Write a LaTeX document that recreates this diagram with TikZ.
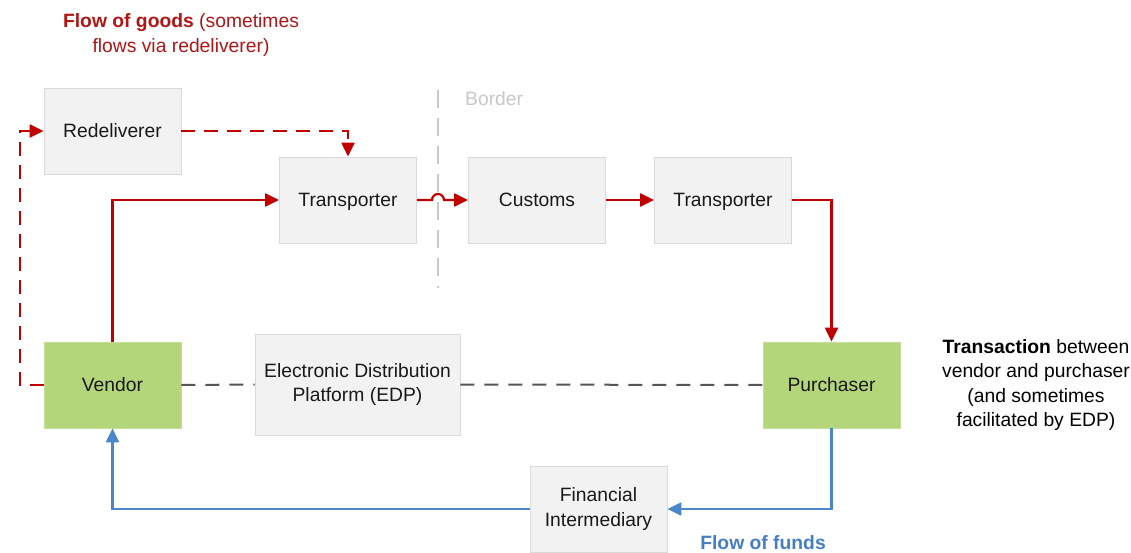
\documentclass[tikz,border=0pt]{standalone}
\usepackage{fontspec}
\setmainfont{Liberation Sans}
\usetikzlibrary{arrows.meta}
\definecolor{gred}{RGB}{192,0,0}
\definecolor{gredtext}{RGB}{176,22,22}
\definecolor{fblue}{RGB}{74,134,200}
\definecolor{fbluetext}{RGB}{70,126,196}
\definecolor{boxfill}{RGB}{242,242,242}
\definecolor{boxline}{RGB}{217,217,217}
\definecolor{gfill}{RGB}{179,214,122}
\definecolor{gline}{RGB}{196,224,150}
\definecolor{tgray}{RGB}{85,85,85}
\definecolor{bgray}{RGB}{200,200,200}
\newcommand{\mainfs}{\fontsize{19.3}{24.3}\selectfont}
\newcommand{\lowr}[1]{\raisebox{-2pt}[\height][\depth]{#1}}
\begin{document}
\begin{tikzpicture}[x=1pt,y=-1pt,
  box/.style={draw=boxline,fill=boxfill,line width=0.8pt,minimum width=137pt,minimum height=86pt,inner sep=0pt,align=center,font=\mainfs,text=black!90},
  gbox/.style={box,draw=gline,fill=gfill},
  tip/.style={-{Triangle[length=14pt,width=13pt]}},
  goods/.style={draw=gred,line width=2.2pt,tip},
  goodsdash/.style={goods,dash pattern=on 14pt off 9pt},
  trans/.style={draw=tgray,line width=2pt,dash pattern=on 14pt off 10pt},
  funds/.style={draw=fblue,line width=2.2pt,tip},
  borderline/.style={draw=bgray,line width=1.6pt,dash pattern=on 18pt off 10pt},
  lbl/.style={font=\mainfs,align=center,inner sep=0pt}]
\useasboundingbox (0,0) rectangle (1131,553);

% border
\coordinate (bdtop) at (438,90);
\coordinate (bdbot) at (438,288);
\draw[borderline] (bdtop) -- (bdbot);
\node[lbl,anchor=west,text=bgray] (bdlbl) at (465,99) {Border};

% boxes
\node[box] (red) at (112.5,131) {Redeliverer};
\node[box] (t1) at (348,200) {\lowr{Transporter}};
\node[box] (cu) at (537,200) {Customs};
\node[box] (t2) at (723,200) {\lowr{Transporter}};
\node[gbox] (ven) at (112.5,385) {Vendor};
\node[box,minimum width=205pt,minimum height=101pt] (edp) at (357.5,384.5) {Electronic Distribution\\Platform (EDP)};
\node[gbox] (pu) at (831.5,385) {Purchaser};
\node[box] (fi) at (598.5,509) {Financial\\Intermediary};

% labels
\node[lbl,text=gredtext] (goodslbl) at (181,35) {\textbf{Flow of goods} (sometimes\\flows via redeliverer)};
\node[lbl,text=black] (translbl) at (1036,385) {\textbf{Transaction} between\\vendor and purchaser\\(and sometimes\\facilitated by EDP)};
\node[lbl,text=fbluetext] (fundslbl) at (763,543) {\textbf{Flow of funds}};

% goods flow
\draw[goods] (ven.north) |- (t1.west);
\coordinate (hopL) at (432,200);
\draw[goods] (t1.east) -- (hopL) arc[start angle=180,end angle=0,radius=6pt] -- (cu.west);
\draw[goods] (cu.east) -- (t2.west);
\draw[goods] (t2.east) -| (pu.north);
\coordinate (vl) at (20,385);
\draw[goodsdash] (ven.west) -- (vl) |- (red.west);
\draw[goodsdash] (red.east) -| (t1.north);

% transaction
\draw[trans] (ven.east) -- (edp.west);
\draw[trans] (edp.east) -- (pu.west);

% funds
\draw[funds] (pu.south) |- (fi.east);
\draw[funds] (fi.west) -| (ven.south);
\end{tikzpicture}
\end{document}
